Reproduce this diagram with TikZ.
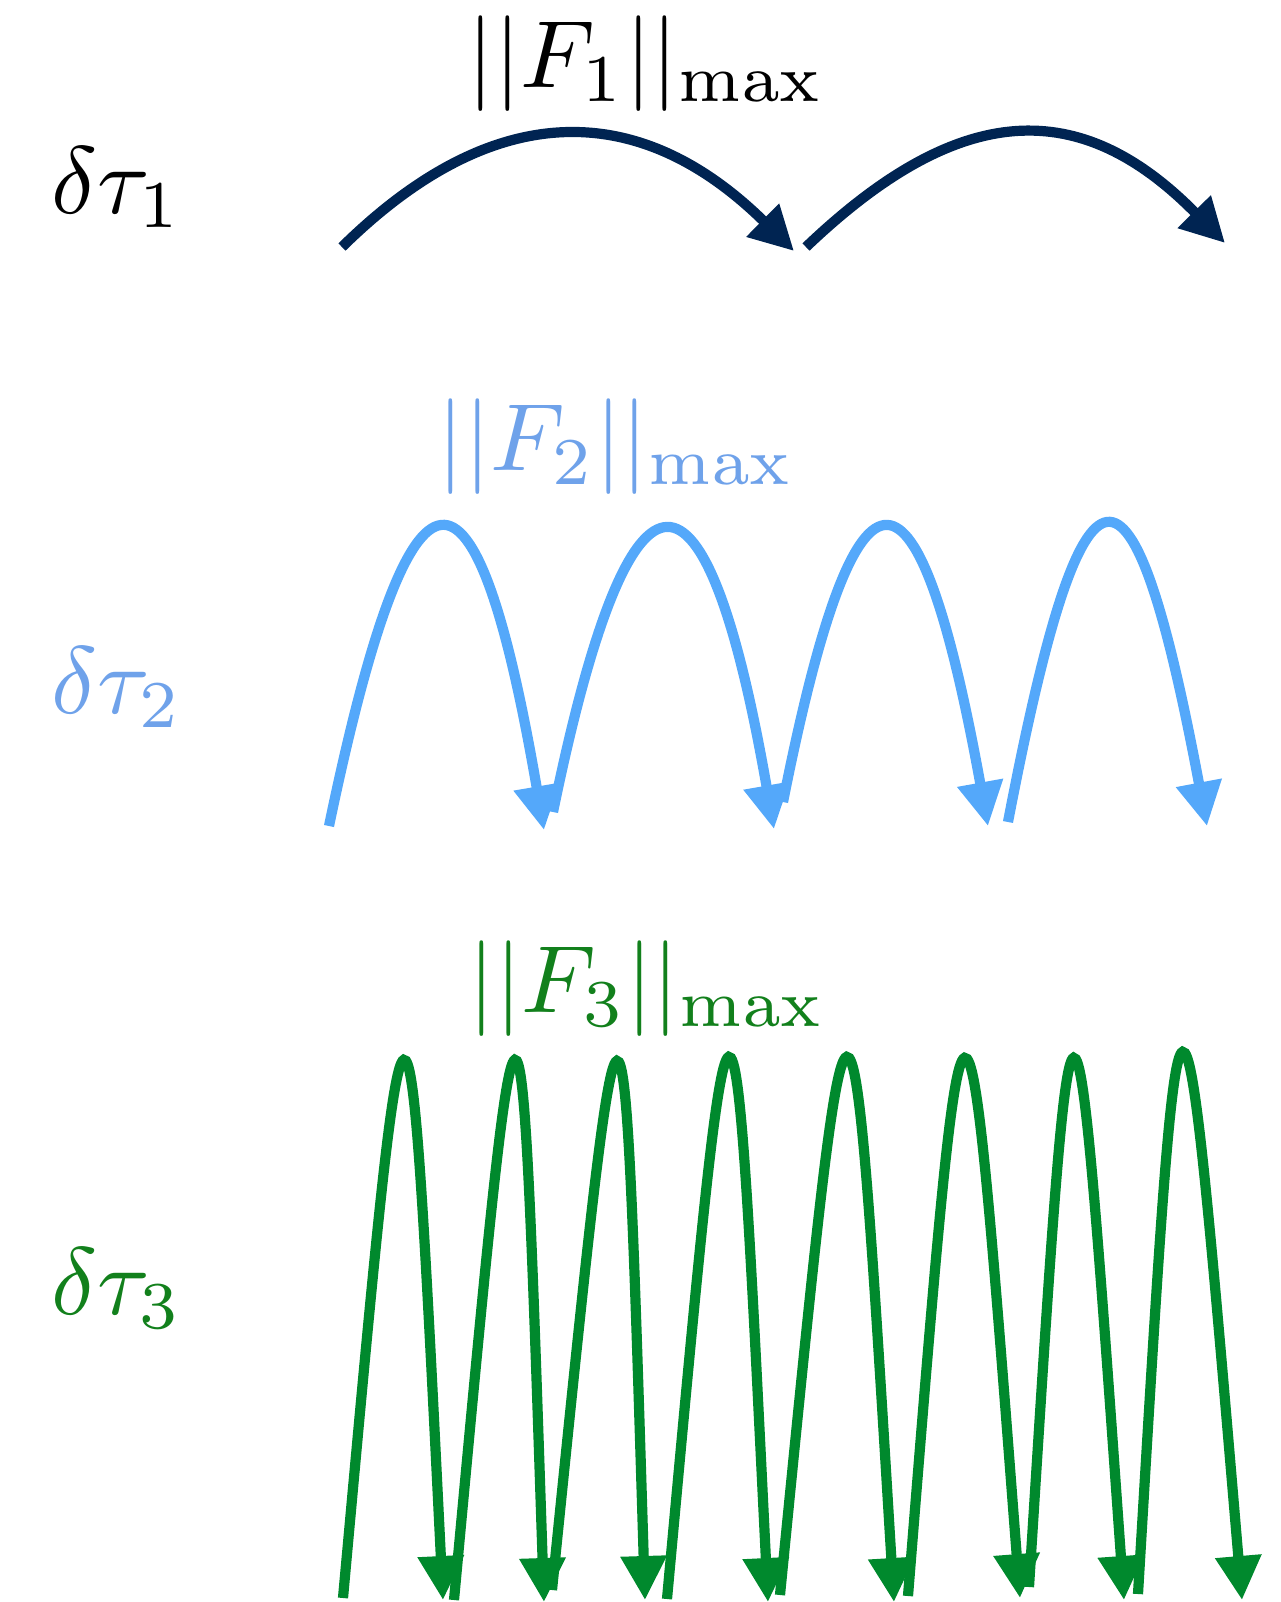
\documentclass[tikz,border=0pt]{standalone}
\usetikzlibrary{arrows.meta}
\definecolor{navyc}{RGB}{0,36,82}
\definecolor{bluearr}{RGB}{84,168,250}
\definecolor{bluetxt}{RGB}{111,162,234}
\definecolor{greenarr}{RGB}{0,137,45}
\definecolor{greentxt}{RGB}{18,128,28}
\begin{document}
\begin{tikzpicture}[x=0.1mm,y=-0.1mm,
  jump/.style={line width=1.02mm, line cap=butt, -{Triangle[length=4.4mm,width=4.4mm]}},
  lab/.style={inner sep=0pt, scale=2.72},
]
\useasboundingbox (0,0) rectangle (1281,1602);

% ---------- labels ----------
\node[lab, anchor=base west, text=black] (d1) at (50,213) {$\delta\tau_1$};
\node[lab, anchor=base, text=black] (f1) at (646,87) {$||F_1||_{\max}$};
\node[lab, anchor=base west, text=bluetxt] (d2) at (50,713) {$\delta\tau_2$};
\node[lab, anchor=base, text=bluetxt] (f2) at (616,470) {$||F_2||_{\max}$};
\node[lab, anchor=base west, text=greentxt] (d3) at (50,1314) {$\delta\tau_3$};
\node[lab, anchor=base, text=greentxt] (f3) at (647,1012) {$||F_3||_{\max}$};

% ---------- row 1 ----------
\coordinate (r1s1) at (342,247);  \coordinate (r1e1) at (794,251);
\coordinate (r1s2) at (806,247);  \coordinate (r1e2) at (1225,243);
\draw[jump, navyc] (r1s1) .. controls (495.3,96) and (640.7,100) .. (r1e1);
\draw[jump, navyc] (r1s2) .. controls (960,100) and (1080.4,96) .. (r1e2);

% ---------- row 2 ----------
\coordinate (r2s1) at (329,826);  \coordinate (r2e1) at (544,830);
\coordinate (r2s2) at (553,812);  \coordinate (r2e2) at (774,829);
\coordinate (r2s3) at (783,802);  \coordinate (r2e3) at (988,826);
\coordinate (r2s4) at (1008,822); \coordinate (r2e4) at (1207,826);
\draw[jump, bluearr] (r2s1) .. controls (411.8,428.7) and (475.8,432.7) .. (r2e1);
\draw[jump, bluearr] (r2s2) .. controls (632.1,427.3) and (706.9,444.3) .. (r2e2);
\draw[jump, bluearr] (r2s3) .. controls (858.3,423.3) and (919.3,447.3) .. (r2e3);
\draw[jump, bluearr] (r2s4) .. controls (1083.9,426) and (1132.5,430) .. (r2e4);

% ---------- row 3 ----------
\coordinate (r3s1) at (343,1598);  \coordinate (r3e1) at (443,1600);
\coordinate (r3s2) at (454,1600);  \coordinate (r3e2) at (544,1602);
\coordinate (r3s3) at (552,1590);  \coordinate (r3e3) at (645,1600);
\coordinate (r3s4) at (667,1599);  \coordinate (r3e4) at (768,1602);
\coordinate (r3s5) at (780,1595);  \coordinate (r3e5) at (894,1602);
\coordinate (r3s6) at (908,1596);  \coordinate (r3e6) at (1020,1598);
\coordinate (r3s7) at (1029,1587); \coordinate (r3e7) at (1124,1600);
\coordinate (r3s8) at (1138,1594); \coordinate (r3e8) at (1242,1600);
\draw[jump, greenarr] (r3s1) .. controls (407.7,887) .. (r3e1);
\draw[jump, greenarr] (r3s2) .. controls (520.3,886.3) .. (r3e2);
\draw[jump, greenarr] (r3s3) .. controls (623.2,889.7) .. (r3e3);
\draw[jump, greenarr] (r3s4) .. controls (732.8,882.5) .. (r3e4);
\draw[jump, greenarr] (r3s5) .. controls (850.3,883.2) .. (r3e5);
\draw[jump, greenarr] (r3s6) .. controls (965.3,885) .. (r3e6);
\draw[jump, greenarr] (r3s7) .. controls (1073.2,886.1) .. (r3e7);
\draw[jump, greenarr] (r3s8) .. controls (1180.7,877) .. (r3e8);
\end{tikzpicture}
\end{document}
